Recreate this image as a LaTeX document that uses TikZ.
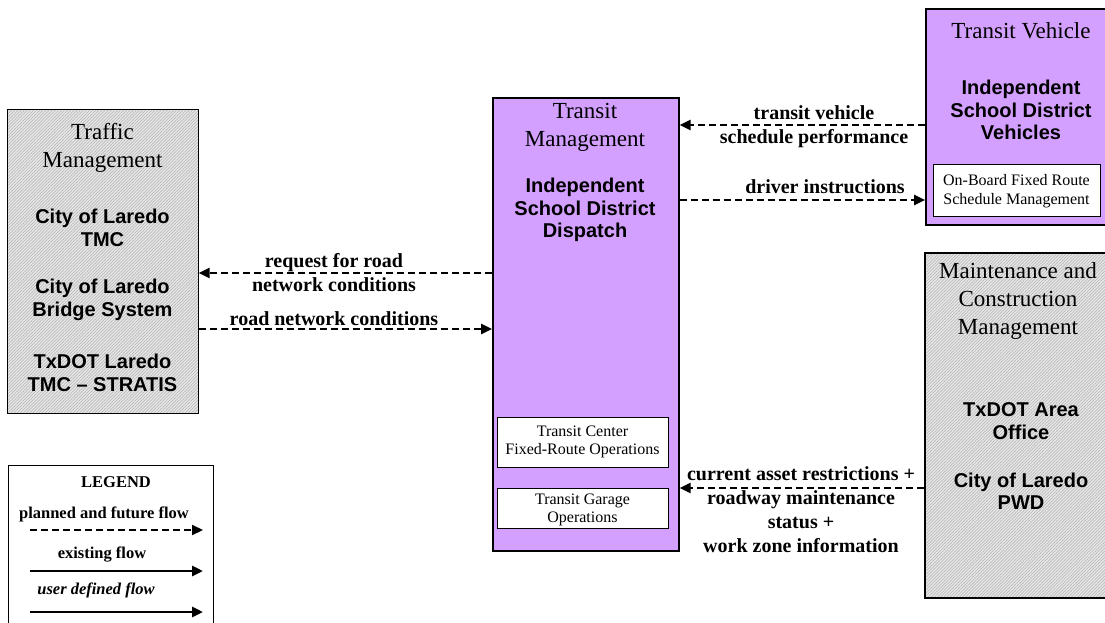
\documentclass[tikz,border=0pt]{standalone}
\usepackage{fontspec}
\setmainfont{Liberation Serif}
\newfontfamily\arialf{Liberation Sans}
\usetikzlibrary{arrows.meta,patterns.meta}
\definecolor{purp}{RGB}{212,160,255}
\definecolor{hatchbg}{RGB}{232,232,232}
\tikzset{
  hbox/.style={draw=black,line width=1.6pt,anchor=north west,inner sep=0pt,
    preaction={fill=hatchbg},pattern={Lines[angle=45,distance=2.2pt,line width=0.7pt]},pattern color=gray!55},
  pbox/.style={draw=black,line width=1.6pt,anchor=north west,inner sep=0pt,fill=purp},
  wbox/.style={draw=black,line width=1.2pt,anchor=north west,inner sep=0pt,fill=white},
  ttl/.style={font=\fontsize{23}{28}\selectfont,align=center,inner sep=0pt},
  ent/.style={font=\arialf\bfseries\fontsize{20}{22.5}\selectfont,align=center,inner sep=0pt},
  sml/.style={font=\fontsize{16}{18.5}\selectfont,align=center,inner sep=0pt},
  lbl/.style={font=\bfseries\fontsize{20}{24}\selectfont,align=center,inner sep=0pt},
  lgt/.style={font=\bfseries\fontsize{16.5}{19}\selectfont,inner sep=0pt},
  flow/.style={line width=2.5pt,dash pattern=on 7pt off 4pt,-{Triangle[length=11pt,width=10pt]}},
  sflow/.style={line width=2.7pt,-{Triangle[length=11pt,width=10pt]}}
}
\begin{document}
\begin{tikzpicture}[x=1pt,y=-1pt]
\useasboundingbox (0,0) rectangle (1105,623);
\begin{scope}
\clip (0,0) rectangle (1105,623);
% Traffic Management
\node[hbox,minimum width=191pt,minimum height=304pt] (traf) at (7,109) {};
\node[ttl] (trafT) at (102.5,148) {Traffic\\Management};
\node[ent] (trafA) at (102.5,228) {City of Laredo\\TMC};
\node[ent] (trafB) at (102.5,300) {City of Laredo\\Bridge System};
\node[ent] (trafC) at (102.5,373) {TxDOT Laredo\\TMC – STRATIS};
% Transit Management
\node[pbox,minimum width=186pt,minimum height=453pt] (tman) at (492,97) {};
\node[ttl] (tmanT) at (585,127) {Transit\\Management};
\node[ent] (tmanA) at (585,210) {Independent\\School District\\Dispatch};
\node[wbox,minimum width=171pt,minimum height=50pt] (tc) at (497,417) {};
\node[sml] (tcT) at (582.5,442) {Transit Center\\Fixed-Route Operations};
\node[wbox,minimum width=171pt,minimum height=40pt] (tg) at (497,488) {};
\node[sml] (tgT) at (582.5,510) {Transit Garage\\Operations};
% Transit Vehicle
\node[pbox,minimum width=192pt,minimum height=216pt] (tveh) at (925,8) {};
\node[ttl] (tvehT) at (1021,31) {Transit Vehicle};
\node[ent] (tvehA) at (1021,110) {Independent\\School District\\Vehicles};
\node[wbox,minimum width=167pt,minimum height=52pt] (ob) at (933,164) {};
\node[sml] (obT) at (1016.5,191) {On-Board Fixed Route\\Schedule Management};
% Maintenance
\node[hbox,minimum width=194pt,minimum height=345pt] (mcm) at (924,252) {};
\node[ttl] (mcmT) at (1018,301) {Maintenance and\\Construction\\Management};
\node[ent] (mcmA) at (1021,421) {TxDOT Area\\Office};
\node[ent] (mcmB) at (1021,491) {City of Laredo\\PWD};
% Legend
\node[draw=black,line width=1.4pt,fill=white,anchor=north west,inner sep=0pt,minimum width=205pt,minimum height=180pt] (leg) at (8,465) {};
\node[lgt] (legT) at (116,482) {LEGEND};
\node[lgt] (legA) at (104,514) {planned and future flow};
\node[lgt] (legB) at (102,555) {existing flow};
\node[lgt,font=\bfseries\itshape\fontsize{16.5}{19}\selectfont] (legC) at (96,590) {user defined flow};
\coordinate (la1) at (30,530); \coordinate (la2) at (203,530);
\coordinate (lb1) at (30,571); \coordinate (lb2) at (203,571);
\coordinate (lc1) at (30,612); \coordinate (lc2) at (203,612);
\draw[flow,line width=2.2pt] (la1) -- (la2);
\draw[sflow] (lb1) -- (lb2);
\draw[sflow] (lc1) -- (lc2);
\end{scope}
% flows
\coordinate (y1) at (0,125);
\coordinate (y2) at (0,200);
\coordinate (y3) at (0,273);
\coordinate (y4) at (0,329);
\coordinate (y5) at (0,488);
\draw[flow] (tveh.west |- y1) -- (tman.east |- y1);
\draw[flow] (tman.east |- y2) -- (tveh.west |- y2);
\draw[flow] (tman.west |- y3) -- (traf.east |- y3);
\draw[flow] (traf.east |- y4) -- (tman.west |- y4);
\draw[flow] (mcm.west |- y5) -- (tman.east |- y5);
% labels
\node[lbl] (l1) at (814,127) {transit vehicle\\schedule performance};
\node[lbl] (l2) at (825,187) {driver instructions};
\node[lbl] (l3) at (334,273) {request for road\\network conditions};
\node[lbl] (l4) at (334,319) {road network conditions};
\node[lbl] (l5) at (801,510) {current asset restrictions +\\roadway maintenance\\status +\\work zone information};
\end{tikzpicture}
\end{document}
